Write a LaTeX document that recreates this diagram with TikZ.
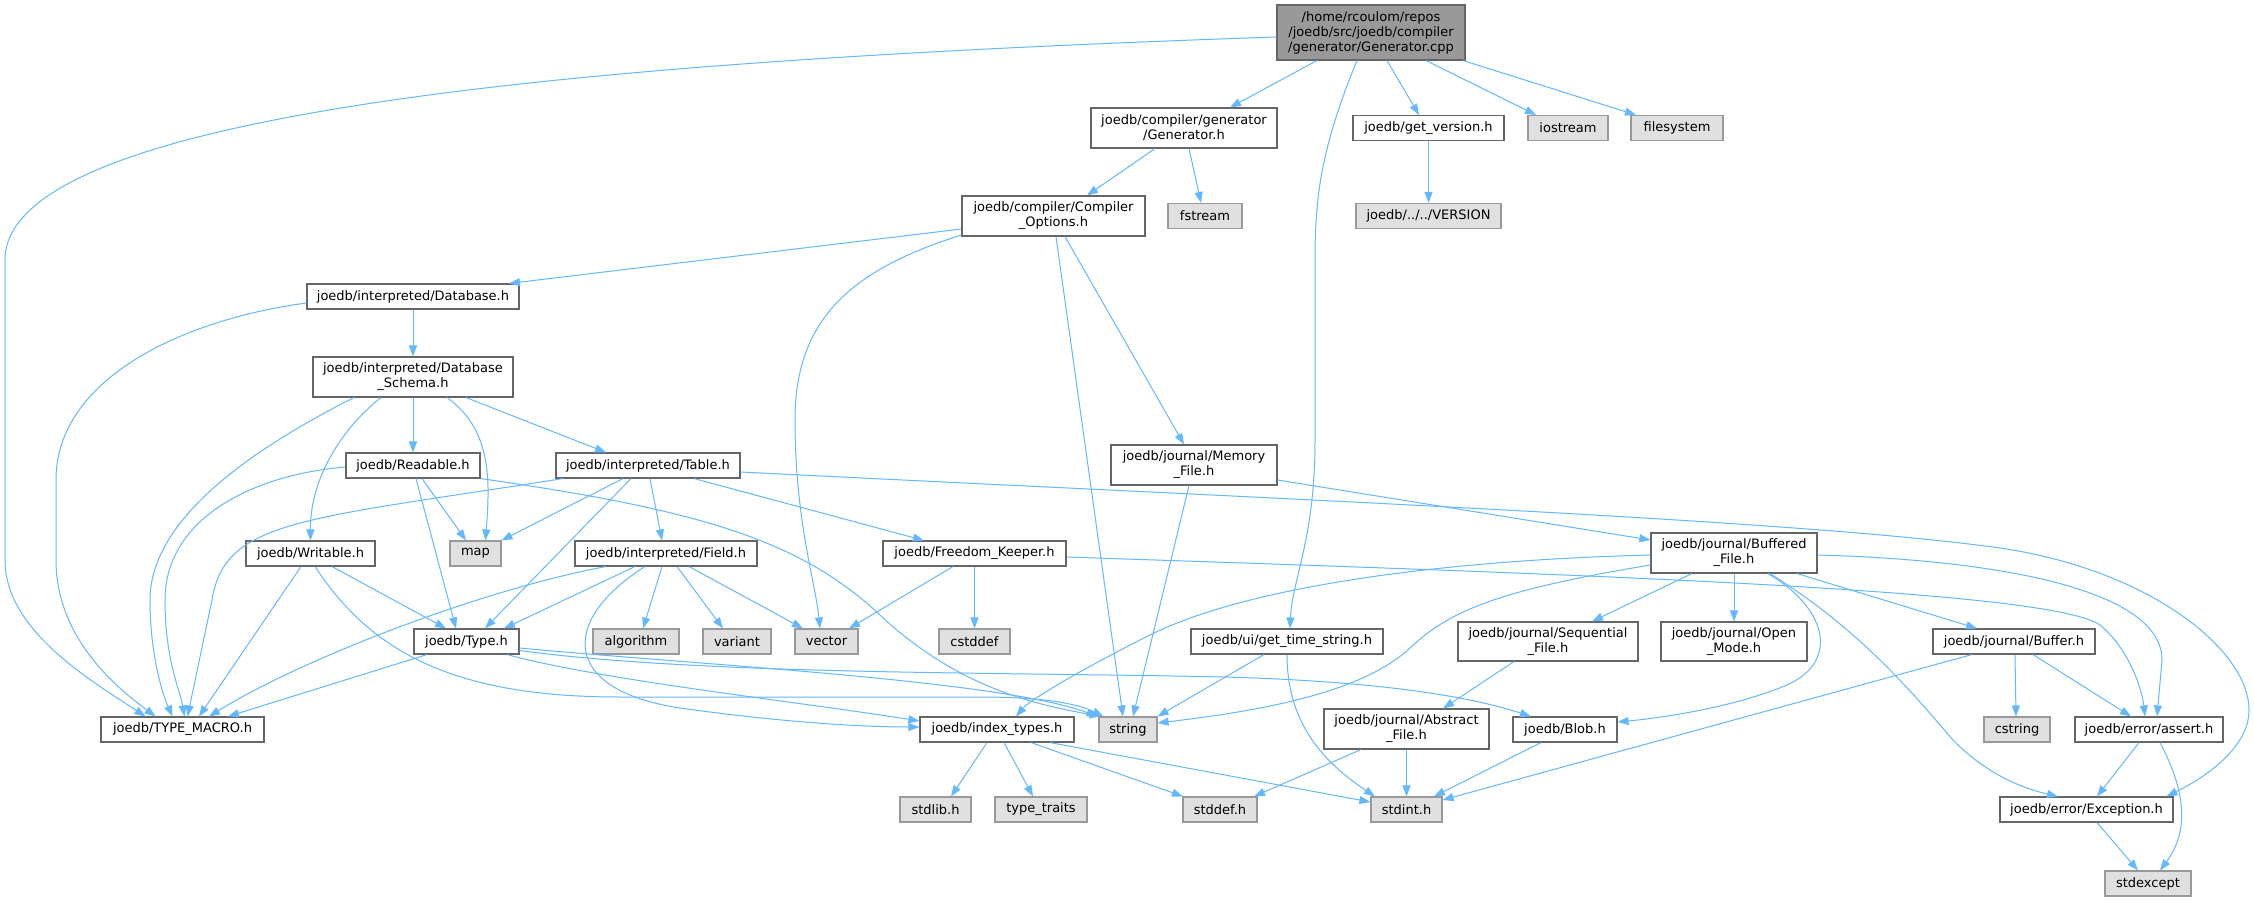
\documentclass[tikz,border=0pt]{standalone}
\usepackage{fontspec}
\setmainfont{DejaVu Sans}
\usetikzlibrary{arrows.meta}
\definecolor{edgeblue}{HTML}{63B8FF}
\definecolor{nodeborder}{HTML}{666666}
\definecolor{sysfill}{HTML}{E0E0E0}
\definecolor{sysborder}{HTML}{999999}
\definecolor{rootfill}{HTML}{999999}
\begin{document}
\begin{tikzpicture}[x=1pt,y=-1pt,
  box/.style={draw=nodeborder, fill=white, line width=1.1pt, inner sep=0pt, align=center,
    font=\fontsize{13}{15}\selectfont, minimum height=25pt},
  sys/.style={box, draw=sysborder, fill=sysfill},
  rootbox/.style={box, fill=rootfill, draw=nodeborder},
  e/.style={draw=edgeblue, line width=1pt, -{Triangle[length=11pt,width=8pt]}}
]
\fill[white] (0,0) rectangle (2254,901);
\useasboundingbox (0,0) rectangle (2254,901);

% nodes
\node[rootbox, minimum width=188pt, minimum height=55pt] (root) at (1371,32.5) {/home/rcoulom/repos\\/joedb/src/joedb/compiler\\/generator/Generator.cpp};
\node[box, minimum width=186pt, minimum height=40pt] (gen) at (1184,128) {joedb/compiler/generator\\/Generator.h};
\node[box, minimum width=151pt] (getver) at (1428.5,128) {joedb/get\_version.h};
\node[sys, minimum width=80pt] (iostream) at (1568,128) {iostream};
\node[sys, minimum width=92pt] (filesystem) at (1677,128) {filesystem};
\node[box, minimum width=183pt, minimum height=40pt] (copt) at (1053.5,216) {joedb/compiler/Compiler\\\_Options.h};
\node[sys, minimum width=74pt] (fstream) at (1205,216) {fstream};
\node[sys, minimum width=145pt] (version) at (1428.5,216) {joedb/../../VERSION};
\node[box, minimum width=212pt] (db) at (413,296.5) {joedb/interpreted/Database.h};
\node[box, minimum width=200pt, minimum height=40pt] (schema) at (413,377) {joedb/interpreted/Database\\\_Schema.h};
\node[box, minimum width=134pt] (readable) at (413,465.5) {joedb/Readable.h};
\node[box, minimum width=184pt] (table) at (648,465.5) {joedb/interpreted/Table.h};
\node[box, minimum width=166pt, minimum height=40pt] (memory) at (1194,465) {joedb/journal/Memory\\\_File.h};
\node[box, minimum width=129pt] (writable) at (310.5,553.5) {joedb/Writable.h};
\node[sys, minimum width=51pt] (map) at (475.5,553.5) {map};
\node[box, minimum width=182pt] (field) at (666,553.5) {joedb/interpreted/Field.h};
\node[box, minimum width=183pt] (freedom) at (974.5,553.5) {joedb/Freedom\_Keeper.h};
\node[box, minimum width=166pt, minimum height=40pt] (buffered) at (1734,553) {joedb/journal/Buffered\\\_File.h};
\node[box, minimum width=105pt] (type) at (466.5,641.5) {joedb/Type.h};
\node[sys, minimum width=86pt] (algorithm) at (636,641.5) {algorithm};
\node[sys, minimum width=68pt] (variant) at (737,641.5) {variant};
\node[sys, minimum width=63pt] (vector) at (826.5,641.5) {vector};
\node[sys, minimum width=71pt] (cstddef) at (974.5,641.5) {cstddef};
\node[box, minimum width=192pt] (gettime) at (1287,641.5) {joedb/ui/get\_time\_string.h};
\node[box, minimum width=180pt, minimum height=39pt] (seq) at (1548,641.5) {joedb/journal/Sequential\\\_File.h};
\node[box, minimum width=146pt, minimum height=39pt] (open) at (1734,641.5) {joedb/journal/Open\\\_Mode.h};
\node[box, minimum width=162pt] (buffer) at (2014,641.5) {joedb/journal/Buffer.h};
\node[box, minimum width=163pt] (TM) at (182.5,729.5) {joedb/TYPE\_MACRO.h};
\node[box, minimum width=154pt] (index) at (997,729.5) {joedb/index\_types.h};
\node[sys, minimum width=58pt] (string) at (1128,729.5) {string};
\node[box, minimum width=165pt, minimum height=40pt] (abstract) at (1406.5,729) {joedb/journal/Abstract\\\_File.h};
\node[box, minimum width=104pt] (blob) at (1565,729.5) {joedb/Blob.h};
\node[sys, minimum width=66pt] (cstring) at (2017,729.5) {cstring};
\node[box, minimum width=148pt] (assert) at (2149,729.5) {joedb/error/assert.h};
\node[sys, minimum width=71pt] (stdlib) at (935.5,809.5) {stdlib.h};
\node[sys, minimum width=92pt] (typetraits) at (1041,809.5) {type\_traits};
\node[sys, minimum width=74pt] (stddef) at (1220,809.5) {stddef.h};
\node[sys, minimum width=71pt] (stdint) at (1406.5,809.5) {stdint.h};
\node[box, minimum width=173pt] (exception) at (2086.5,809.5) {joedb/error/Exception.h};
\node[sys, minimum width=86pt] (stdexcept) at (2148,883.5) {stdexcept};

% edges
\draw[e] ([yshift=-4.5pt]root.west) .. controls (600,60) and (5,110) .. (5,260) -- (5,560) .. controls (5,630) and (90,680) .. ([xshift=-37pt]TM.north);
\draw[e] ([xshift=-54pt]root.south) -- ([xshift=46pt]gen.north);
\draw[e] ([xshift=-14pt]root.south) .. controls (1320,150) and (1315,200) .. (1315,260) -- (1315,440) .. controls (1315,540) and (1292,580) .. ([xshift=3pt]gettime.north);
\draw[e] ([xshift=16pt]root.south) -- ([xshift=-9.5pt]getver.north);
\draw[e] ([xshift=55pt]root.south) -- ([xshift=-32pt]iostream.north);
\draw[e] ([xshift=92pt]root.south) -- ([xshift=-41pt]filesystem.north);
\draw[e] ([xshift=-29pt]gen.south) -- ([xshift=33.5pt]copt.north);
\draw[e] ([xshift=5pt]gen.south) -- ([xshift=-4pt]fstream.north);
\draw[e] (getver) -- (version);
\draw[e] ([yshift=-13pt]copt.west) -- ([xshift=96pt]db.north);
\draw[e] ([yshift=-19pt]copt.west) .. controls (850,270) and (795,320) .. (795,420) .. controls (795,520) and (815,580) .. ([xshift=-6.5pt]vector.north);
\draw[e] ([xshift=2.5pt]copt.south) -- ([xshift=-5pt]string.north);
\draw[e] ([xshift=11.5pt]copt.south) -- ([xshift=-10pt]memory.north);
\draw[e] ([yshift=-6.5pt]db.west) .. controls (180,320) and (56,380) .. (56,480) -- (56,560) .. controls (56,640) and (120,690) .. ([xshift=-27pt]TM.north);
\draw[e] (db) -- (schema);
\draw[e] ([xshift=-59pt]schema.south) .. controls (250,450) and (150,520) .. (150,600) .. controls (150,660) and (165,700) .. ([xshift=-10pt]TM.north);
\draw[e] ([xshift=-32pt]schema.south) .. controls (340,430) and (310,480) .. (writable.north);
\draw[e] (schema) -- (readable);
\draw[e] ([xshift=34pt]schema.south) .. controls (492,430) and (490,480) .. ([xshift=10pt]map.north);
\draw[e] ([xshift=53pt]schema.south) -- ([xshift=-42pt]table.north);
\draw[e] ([yshift=-1.5pt]readable.west) .. controls (250,475) and (165,520) .. (165,600) .. controls (165,660) and (180,690) .. ([xshift=2pt]TM.north);
\draw[e] ([xshift=9pt]readable.south) -- ([xshift=-9.5pt]map.north);
\draw[e] ([xshift=3pt]readable.south) -- ([xshift=-10.5pt]type.north);
\draw[e] (readable.south east) .. controls (700,510) and (800,540) .. (880,615) .. controls (960,690) and (1040,705) .. ([xshift=2pt]string.north west);
\draw[e] ([xshift=-85pt]table.south) .. controls (300,520) and (225,520) .. (212,600) -- ([xshift=5pt]TM.north);
\draw[e] ([xshift=-25pt]table.south) -- ([xshift=26pt]map.north);
\draw[e] ([xshift=-17pt]table.south) -- ([xshift=18.5pt]type.north);
\draw[e] ([xshift=2pt]table.south) -- ([xshift=-4pt]field.north);
\draw[e] ([xshift=46pt]table.south) -- ([xshift=-50.5pt]freedom.north);
\draw[e] ([yshift=-6.5pt]table.east) .. controls (1300,500) and (1800,520) .. (2000,548) .. controls (2150,570) and (2249,650) .. (2249,710) .. controls (2249,750) and (2200,780) .. ([xshift=80pt]exception.north);
\draw[e] ([xshift=-9.5pt]writable.south) -- ([xshift=16.5pt]TM.north);
\draw[e] ([xshift=21.5pt]writable.south) -- ([xshift=-20.5pt]type.north);
\draw[e] ([xshift=4.5pt]writable.south) .. controls (370,650) and (450,697) .. (620,697) -- (980,697) .. controls (1050,697) and (1080,705) .. ([xshift=5pt]string.north west);
\draw[e] ([xshift=-60pt]field.south) .. controls (480,590) and (300,660) .. ([xshift=26.5pt]TM.north);
\draw[e] ([xshift=-31pt]field.south) -- ([xshift=37.5pt]type.north);
\draw[e] ([xshift=-21pt]field.south) .. controls (560,620) and (560,690) .. (680,708) .. controls (780,722) and (860,727) .. ([yshift=2.5pt]index.west);
\draw[e] ([xshift=-4pt]field.south) -- ([xshift=7pt]algorithm.north);
\draw[e] ([xshift=11pt]field.south) -- ([xshift=-14pt]variant.north);
\draw[e] ([xshift=23pt]field.south) -- ([xshift=-23.5pt]vector.north);
\draw[e] ([xshift=-39.5pt]type.south) -- ([xshift=45.5pt]TM.north);
\draw[e] ([xshift=40.5pt]type.south) .. controls (600,680) and (800,702) .. ([yshift=8.5pt]index.west);
\draw[e] ([yshift=-6.5pt]type.east) .. controls (700,665) and (1000,680) .. ([xshift=-1pt]string.north west);
\draw[e] ([yshift=-9pt]type.east) .. controls (700,675) and (1000,672) .. (1225,677) .. controls (1400,682) and (1480,700) .. ([xshift=-34pt]blob.north);
\draw[e] ([xshift=-5pt]memory.south) -- ([xshift=5pt]string.north);
\draw[e] ([yshift=-15pt]memory.east) -- ([yshift=13pt]buffered.west);
\draw[e] ([xshift=-21.5pt]freedom.south) -- ([xshift=22.5pt]vector.north);
\draw[e] (freedom) -- (cstddef);
\draw[e] ([yshift=-3.5pt]freedom.east) .. controls (1600,575) and (2050,590) .. (2100,625) .. controls (2130,650) and (2142,690) .. ([xshift=-4pt]assert.north);
\draw[e] ([xshift=-23pt]gettime.south) -- (string.north east);
\draw[e] (gettime.south) .. controls (1287,720) and (1320,760) .. ([xshift=-31.5pt]stdint.north);
\draw[e] ([xshift=-10pt]index.south) -- ([xshift=15.5pt]stdlib.north);
\draw[e] ([xshift=7pt]index.south) -- ([xshift=-8pt]typetraits.north);
\draw[e] ([xshift=34pt]index.south) -- ([xshift=-37pt]stddef.north);
\draw[e] ([xshift=53pt]index.south) -- ([yshift=7.5pt]stdint.west);
\draw[e] ([xshift=-45.5pt]abstract.south) -- ([xshift=34pt]stddef.north);
\draw[e] (abstract) -- (stdint);
\draw[e] ([xshift=-34pt]seq.south) -- ([xshift=36.5pt]abstract.north);
\draw[e] ([yshift=-2pt]buffered.west) .. controls (1450,560) and (1250,585) .. (1150,635) .. controls (1080,670) and (1030,700) .. ([xshift=19pt]index.north);
\draw[e] ([yshift=-12pt]buffered.west) .. controls (1500,590) and (1450,610) .. (1410,648) .. controls (1360,695) and (1250,712) .. ([yshift=6.5pt]string.east);
\draw[e] ([xshift=-42pt]buffered.south) -- ([xshift=44pt]seq.north);
\draw[e] (buffered) -- (open);
\draw[e] ([xshift=34pt]buffered.south) .. controls (1830,610) and (1840,665) .. (1782,687) .. controls (1730,708) and (1660,718) .. ([yshift=7.5pt]blob.east);
\draw[e] ([xshift=36pt]buffered.south) .. controls (1860,630) and (1910,690) .. (1953,740) .. controls (1990,778) and (2030,790) .. ([xshift=-28.5pt]exception.north);
\draw[e] ([xshift=63pt]buffered.south) -- ([xshift=-37pt]buffer.north);
\draw[e] ([yshift=-2pt]buffered.east) .. controls (2000,560) and (2162,590) .. (2162,660) -- ([xshift=8pt]assert.north);
\draw[e] ([xshift=-42pt]buffer.south) -- ([yshift=9.5pt]stdint.east);
\draw[e] ([xshift=1pt]buffer.south) -- ([xshift=-1pt]cstring.north);
\draw[e] ([xshift=19pt]buffer.south) -- ([xshift=-18pt]assert.north);
\draw[e] ([xshift=-24pt]blob.south) -- ([xshift=27.5pt]stdint.north);
\draw[e] ([xshift=-10pt]assert.south) -- ([xshift=10.5pt]exception.north);
\draw[e] ([xshift=11pt]assert.south) .. controls (2185,790) and (2190,830) .. ([xshift=12pt]stdexcept.north);
\draw[e] ([xshift=10.5pt]exception.south) -- ([xshift=-10pt]stdexcept.north);
\end{tikzpicture}
\end{document}
